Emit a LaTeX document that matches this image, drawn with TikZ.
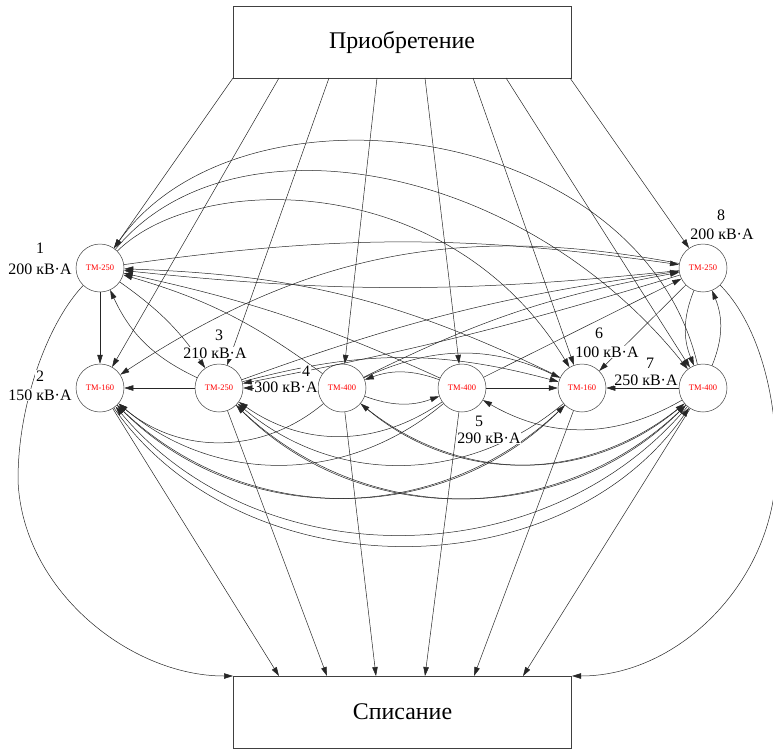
\documentclass[tikz,border=0pt]{standalone}
\usepackage{fontspec}
\setmainfont{Liberation Serif}
\usetikzlibrary{arrows.meta}
\begin{document}
\begin{tikzpicture}[x=1bp,y=-1bp,
  st/.style={circle,draw=black!75,line width=0.5bp,minimum size=48bp,inner sep=0pt,fill=white,font=\fontsize{8.5}{9}\selectfont,text=red},
  box/.style={draw=black!75,line width=0.6bp,minimum width=338bp,minimum height=72bp,inner sep=0pt,font=\fontsize{24}{28}\selectfont},
  lbl/.style={font=\fontsize{16}{18}\selectfont,inner sep=0.6bp,fill=white},
  e/.style={line width=0.5bp,draw=black!85,-{Triangle[length=9bp,width=5.5bp]}},
]
\useasboundingbox (0,0) rectangle (773,749);

\node[box] (top) at (402,42) {Приобретение};
\node[box] (bot) at (402.5,712) {Списание};

\node[st] (n1) at (100,268) {ТМ-250};
\node[st] (n2) at (100,388) {ТМ-160};
\node[st] (n3) at (219,388) {ТМ-250};
\node[st] (n4) at (342,388) {ТМ-400};
\node[st] (n5) at (462,388) {ТМ-400};
\node[st] (n6) at (582,388) {ТМ-160};
\node[st] (n7) at (703,388) {ТМ-400};
\node[st] (n8) at (703,268) {ТМ-250};

\coordinate (t1) at (233,78);
\coordinate (t2) at (279,78);
\coordinate (t3) at (329,78);
\coordinate (t4) at (377,78);
\coordinate (t5) at (425,78);
\coordinate (t6) at (473,78);
\coordinate (t7) at (506,78);
\coordinate (t8) at (570,78);
\coordinate (b1) at (233,676);
\coordinate (b2) at (279,676);
\coordinate (b3) at (327,676);
\coordinate (b4) at (376,676);
\coordinate (b5) at (425,676);
\coordinate (b6) at (474,676);
\coordinate (b7) at (523,676);
\coordinate (b8) at (572,676);

% acquisition
\foreach \i in {1,...,8} {\draw[e] (t\i) -- (n\i);}
% write-off
\foreach \i in {2,...,7} {\draw[e] (n\i) -- (b\i);}
\draw[e] (n1) .. controls (50,320) and (18,400) .. (18,480) .. controls (22,590) and (130,676) .. (b1);
\draw[e] (n8) .. controls (755,320) and (778,390) .. (776,470) .. controls (774,580) and (680,676) .. (b8);

% straight transitions
\draw[e] (n1) -- (n2);
\draw[e] (n3) -- (n2);
\draw[e] (n4) -- (n3);
\draw[e] (n5) -- (n6);
\draw[e] (n7) -- (n6);
\draw[e] (n8) -- (n6);
\draw[e] (n5) -- (n8);

% short curved pairs
\draw[e] (n4) to[bend right=20] (n5);
\draw[e] (n5) to[bend right=20] (n4);
\draw[e] (n8) to[bend right=22] (n7);
\draw[e] (n7) to[bend right=22] (n8);
\draw[e] (n3) to[bend left=20] (n1);
\draw[e] (n1) to[bend left=10] (n3);

% upper transitions
\draw[e] (n1) to[bend left=8] (n8);
\draw[e] (n8) to[bend left=6] (n1);
\draw[e] (n4) to[bend right=10] (n1);
\draw[e] (n5) to[bend right=6] (n1);
\draw[e] (n6) to[bend right=12] (n1);
\draw[e] (n8) to[bend right=22] (n2);
\draw[e] (n3) to[bend left=6] (n8);
\draw[e] (n8) to[bend left=3] (n3);
\draw[e] (n4) to[bend left=8] (n8);
\draw[e] (n3) to[bend left=15] (n6);
\draw[e] (n4) to[bend left=25] (n6);

% top arcs
\draw[e] (n7) .. controls (640,120) and (240,70) .. (n1);
\draw[e] (n1) .. controls (230,110) and (520,160) .. (n7);
\draw[e] (n1) .. controls (200,170) and (450,170) .. (n6);

% lower arcs
\draw[e] (n4) to[bend left=40] (n2);
\draw[e] (n5) to[bend left=40] (n2);
\draw[e] (n6) to[bend left=45] (n2);
\draw[e] (n7) to[bend left=50] (n2);
\draw[e] (n5) to[bend left=35] (n3);
\draw[e] (n6) to[bend left=40] (n3);
\draw[e] (n7) to[bend left=45] (n3);
\draw[e] (n7) to[bend left=40] (n4);
\draw[e] (n7) to[bend left=30] (n5);
\draw[e] (n2) to[bend right=55] (n7);
\draw[e] (n3) to[bend right=45] (n7);
\draw[e] (n4) to[bend right=40] (n7);
\draw[e] (n2) to[bend right=45] (n6);

% labels
\node[lbl] (l1a) at (40,248) {1};
\node[lbl] (l1b) at (40,269) {200 кВ·А};
\node[lbl] (l2a) at (40,376) {2};
\node[lbl] (l2b) at (40,395) {150 кВ·А};
\node[lbl] (l3a) at (219,335) {3};
\node[lbl] (l3b) at (215,353) {210 кВ·А};
\node[lbl] (l4a) at (306,371) {4};
\node[lbl] (l4b) at (286,387) {300 кВ·А};
\node[lbl] (l5a) at (479,421) {5};
\node[lbl] (l5b) at (489,438) {290 кВ·А};
\node[lbl] (l6a) at (599,333) {6};
\node[lbl] (l6b) at (607,352) {100 кВ·А};
\node[lbl] (l7a) at (650,363) {7};
\node[lbl] (l7b) at (646,380) {250 кВ·А};
\node[lbl] (l8a) at (721,215) {8};
\node[lbl] (l8b) at (722,234) {200 кВ·А};
\end{tikzpicture}
\end{document}
